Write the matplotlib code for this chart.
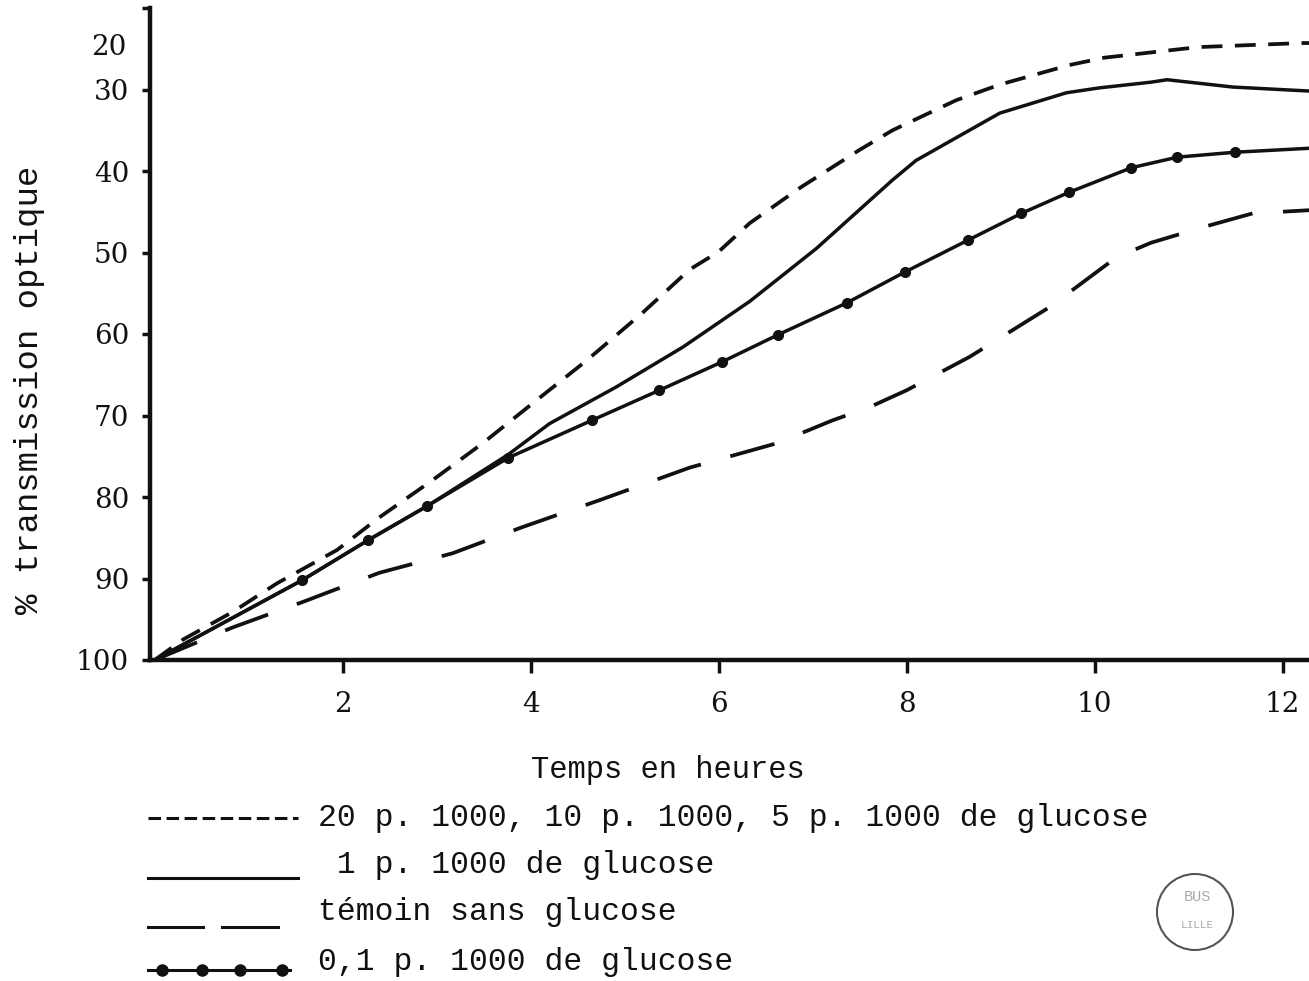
import matplotlib
matplotlib.use("Agg")
from matplotlib import pyplot as plt
from matplotlib.lines import Line2D
from matplotlib.patches import Ellipse

plt.rcParams['lines.scale_dashes'] = False

# 20, 10 et 5 p. 1000 de glucose (short dashes)
x_high = [0, 0.3, 0.83, 1.3, 1.94, 2.39, 2.96, 3.49, 4.0, 4.6, 5.19, 5.69, 6.0,
          6.33, 6.86, 7.5, 7.85, 8.53, 8.99, 9.73, 10.1, 11.1, 12.2, 12.3]
y_high = [100, 97.5, 94.1, 90.6, 86.5, 82.5, 77.9, 73.4, 68.7, 63.2, 57.4, 52.1, 49.9,
          46.4, 42.1, 37.4, 35.0, 31.3, 29.4, 27.0, 26.1, 24.8, 24.3, 24.3]

# 1 p. 1000 de glucose (solid)
x_one = [0, 1.57, 2.27, 2.90, 3.76, 4.2, 4.91, 5.62, 6.33, 7.04, 7.85, 8.1, 8.99,
         9.7, 10.05, 10.6, 10.77, 11.47, 12.3]
y_one = [100, 90.2, 85.3, 81.1, 74.8, 71.0, 66.5, 61.6, 56.0, 49.5, 41.1, 38.7, 32.9,
         30.4, 29.8, 29.1, 28.8, 29.7, 30.2]

# témoin sans glucose (long dashes)
x_ctrl = [0, 0.83, 1.57, 2.39, 3.17, 3.91, 4.73, 5.69, 6.62, 7.21, 7.6, 8.0, 8.67,
          9.52, 10.23, 10.6, 11.15, 11.68, 12.3]
y_ctrl = [100, 96.0, 92.9, 89.3, 86.9, 83.7, 80.4, 76.4, 73.4, 70.6, 69.0, 66.9, 62.8,
          56.7, 50.6, 48.8, 46.9, 45.2, 44.8]

# 0,1 p. 1000 de glucose (line with dots)
x_low = [0, 1.57, 2.27, 2.90, 3.76, 4.65, 5.37, 6.04, 6.63, 7.36, 7.98, 8.65, 9.22,
         9.73, 10.39, 10.88, 11.49, 12.3]
y_low = [100, 90.2, 85.3, 81.1, 75.2, 70.6, 66.9, 63.4, 60.1, 56.2, 52.4, 48.5, 45.2,
         42.6, 39.6, 38.3, 37.7, 37.2]

x_ticks = [2, 4, 6, 8, 10, 12]
y_ticks = [30, 40, 50, 60, 70, 80, 90, 100]

legend_labels = ['20 p. 1000, 10 p. 1000, 5 p. 1000 de glucose',
                 ' 1 p. 1000 de glucose',
                 'témoin sans glucose',
                 '0,1 p. 1000 de glucose']

W, H = 1309, 981
ink = '#111111'
mono = ['Liberation Mono', 'DejaVu Sans Mono']
serif = ['DejaVu Serif']

fig = plt.figure(figsize=(W / 100, H / 100), dpi=100)
ax = fig.add_axes([150 / W, 1 - 660 / H, 1159 / W, 652 / H])

ax.plot(x_high, y_high, color=ink, lw=2.7, dashes=(15, 9))
ax.plot(x_one, y_one, color=ink, lw=2.5)
ax.plot(x_ctrl, y_ctrl, color=ink, lw=2.7, dashes=(33, 22))
ax.plot(x_low, y_low, color=ink, lw=2.5, marker='o', markersize=7,
        markevery=list(range(1, len(x_low) - 1)))

ax.set_xlim(-0.05, 12.28)
ax.set_ylim(100, 20)

for side in ['top', 'right']:
    ax.spines[side].set_visible(False)
for side in ['left', 'bottom']:
    ax.spines[side].set_linewidth(3.2)
    ax.spines[side].set_color(ink)

ax.set_xticks(x_ticks)
ax.set_xticklabels([str(t) for t in x_ticks], family=serif, fontsize=20, color=ink)
ax.set_yticks([20] + y_ticks)
ax.set_yticklabels([''] + [str(t) for t in y_ticks], family=serif, fontsize=20, color=ink)
ax.tick_params(axis='x', length=9, width=2.5, pad=13, color=ink)
ax.tick_params(axis='y', length=6, width=2.5, pad=9, color=ink)
ax.text(-0.3, 24.8, '20', ha='right', va='center', family=serif, fontsize=20, color=ink)

fig.text(30 / W, 1 - 390 / H, '% transmission optique', rotation=90, ha='center',
         va='center', family=mono, fontsize=24.5, color=ink)
fig.text(668 / W, 1 - 770 / H, 'Temps en heures', ha='center', va='center',
         family=mono, fontsize=22, color=ink)

# legend, typed under the chart
def legend_line(xs, y, **kw):
    fig.add_artist(Line2D([x / W for x in xs], [1 - y / H] * len(xs), color=ink,
                          transform=fig.transFigure, **kw))

legend_line([148, 298], 818, lw=2.2, dashes=(9, 4))
legend_line([148, 298], 878, lw=2.2)
legend_line([148, 203], 927, lw=2.2)
legend_line([222, 278], 927, lw=2.2)
legend_line([148, 162, 202, 240, 282, 290], 970, lw=2.2, marker='o', markersize=8,
            markevery=[1, 2, 3, 4])

text_rows = [(318, 818), (318, 865), (318, 912), (318, 962)]
for (tx, ty), label in zip(text_rows, legend_labels):
    fig.text(tx / W, 1 - ty / H, label, ha='left', va='center',
             family=mono, fontsize=22.6, color=ink)

# library stamp
fig.add_artist(Ellipse((1195 / W, 1 - 912 / H), 76 / W, 76 / H, transform=fig.transFigure,
                       fill=False, ec='#555555', lw=1.5))
fig.text(1197 / W, 1 - 897 / H, 'BUS', ha='center', va='center', fontsize=11,
         color='#aaaaaa', family=mono)
fig.text(1197 / W, 1 - 925 / H, 'LILLE', ha='center', va='center', fontsize=8,
         color='#aaaaaa', family=mono)

fig.savefig('out.png', dpi=100)
